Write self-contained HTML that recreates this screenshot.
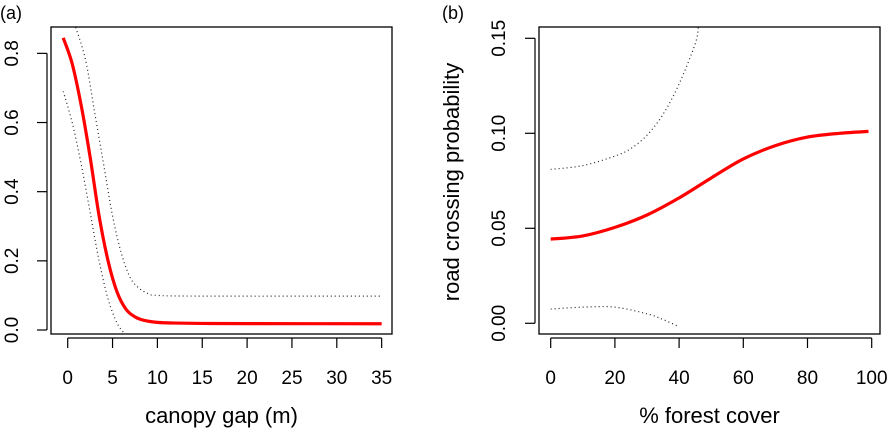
<!DOCTYPE html>
<html><head><meta charset="utf-8"><style>
body{margin:0;background:#fff}
svg{display:block;font-family:"Liberation Sans",Arial,sans-serif}
</style></head><body>
<svg id="c" width="890" height="429" xmlns="http://www.w3.org/2000/svg"></svg>
<script>
// Panel (a) data
const aFitX=[-0.5,0.5,1.5,2.5,3.5,4.5,5.5,6.5,7.5,8.5,10,12,15,20,35];
const aFitY=[0.845,0.77,0.65,0.5,0.33,0.2,0.11,0.06,0.038,0.028,0.022,0.02,0.019,0.0185,0.018];
const aUpX=[0.9,2,3,4,5,6,7,8,9,10,15,35];
const aUpY=[0.875,0.78,0.63,0.48,0.33,0.22,0.15,0.12,0.105,0.1,0.098,0.098];
const aLoX=[-0.5,0.5,1.5,2.5,3.5,4.5,5.5,6.4];
const aLoY=[0.69,0.6,0.48,0.34,0.2,0.09,0.02,-0.012];
const aXTicks=[0,5,10,15,20,25,30,35];
const aYTicks=["0.0","0.2","0.4","0.6","0.8"];
// Panel (b) data
const bFitX=[0,10,20,30,40,50,60,70,80,90,99];
const bFitY=[0.0443,0.046,0.0505,0.057,0.066,0.0765,0.0865,0.0935,0.098,0.1,0.101];
const bUpX=[0,10,20,25,30,35,40,45,46];
const bUpY=[0.081,0.083,0.088,0.092,0.099,0.11,0.126,0.147,0.156];
const bLoX=[0,10,20,30,35,40];
const bLoY=[0.0075,0.0085,0.0085,0.005,0.002,-0.0018];
const bXTicks=[0,20,40,60,80,100];
const bYTicks=["0.00","0.05","0.10","0.15"];

const S=document.getElementById('c');const NS='http://www.w3.org/2000/svg';
function mk(t,a,p){const e=document.createElementNS(NS,t);for(const k in a)e.setAttribute(k,a[k]);(p||S).appendChild(e);return e;}
function catmull(xs,ys,sx,sy){const P=xs.map((x,i)=>[sx(x),sy(ys[i])]);let d='M'+P[0][0]+','+P[0][1];
for(let i=0;i<P.length-1;i++){const p0=P[Math.max(0,i-1)],p1=P[i],p2=P[i+1],p3=P[Math.min(P.length-1,i+2)];
d+=' C'+(p1[0]+(p2[0]-p0[0])/6)+','+(p1[1]+(p2[1]-p0[1])/6)+' '+(p2[0]-(p3[0]-p1[0])/6)+','+(p2[1]-(p3[1]-p1[1])/6)+' '+p2[0]+','+p2[1];}return d;}
function panel(o){
 const g=mk('g',{});
 const cp='clip-'+o.name;const c=mk('clipPath',{id:cp},g);mk('rect',{x:o.L,y:o.T,width:o.R-o.L,height:o.B-o.T},c);
 const lines=[[o.loX,o.loY,'lower-ci'],[o.upX,o.upY,'upper-ci']];
 lines.forEach(l=>{const p=mk('path',{d:catmull(l[0],l[1],o.sx,o.sy),fill:'none',stroke:'#222','stroke-width':1.2,'stroke-dasharray':'1 3','clip-path':'url(#'+cp+')'},g);
 });
 const f=mk('path',{d:catmull(o.fitX,o.fitY,o.sx,o.sy),fill:'none',stroke:'#f00','stroke-width':3.2,'clip-path':'url(#'+cp+')'},g);
 
 const box=mk('rect',{x:o.L,y:o.T,width:o.R-o.L,height:o.B-o.T,fill:'none',stroke:'#000','stroke-width':1.3},g);
 
 const xs=o.xt.map(o.sx);mk('line',{x1:xs[0],x2:xs[xs.length-1],y1:o.B+4,y2:o.B+4,stroke:'#000','stroke-width':1.2},g);
 o.xt.forEach(v=>{const x=o.sx(v);mk('line',{x1:x,x2:x,y1:o.B+4,y2:o.B+14,stroke:'#000','stroke-width':1.2},g);
  const t=mk('text',{x:x,y:o.B+50,'font-size':19,'text-anchor':'middle'},g);t.textContent=v;
  });
 const ys=o.yt.map(v=>o.sy(+v));mk('line',{x1:o.L-4,x2:o.L-4,y1:ys[0],y2:ys[ys.length-1],stroke:'#000','stroke-width':1.2},g);
 o.yt.forEach(v=>{const y=o.sy(+v);mk('line',{x1:o.L-4,x2:o.L-14,y1:y,y2:y,stroke:'#000','stroke-width':1.2},g);
  const t=mk('text',{x:o.ylx,y:y,'font-size':19,'text-anchor':'middle',transform:'rotate(-90 '+o.ylx+' '+y+')'},g);t.textContent=v;
  });
 const xt=mk('text',{x:(o.L+o.R)/2,y:423,'font-size':22,'text-anchor':'middle'},g);xt.textContent=o.xlab;
 
 const pl=mk('text',{x:o.plx,y:19,'font-size':18},g);pl.textContent=o.pl;
 
}
panel({name:'panel-a',L:51,R:392,T:27,B:334,sx:v=>67.7+v*8.97,sy:v=>330-v*345.8,
 fitX:aFitX,fitY:aFitY,upX:aUpX,upY:aUpY,loX:aLoX,loY:aLoY,xt:aXTicks,yt:aYTicks,ylx:18,xlab:'canopy gap (m)',pl:'(a)',plx:0});
panel({name:'panel-b',L:539,R:880,T:27,B:334,sx:v=>550.7+v*3.21,sy:v=>323.3-v*1900,
 fitX:bFitX,fitY:bFitY,upX:bUpX,upY:bUpY,loX:bLoX,loY:bLoY,xt:bXTicks,yt:bYTicks,ylx:505,xlab:'% forest cover',pl:'(b)',plx:442});
const yt=mk('text',{x:459,y:182,'font-size':22,'text-anchor':'middle',transform:'rotate(-90 459 182)'});
yt.textContent='road crossing probability';


</script>
</body></html>
